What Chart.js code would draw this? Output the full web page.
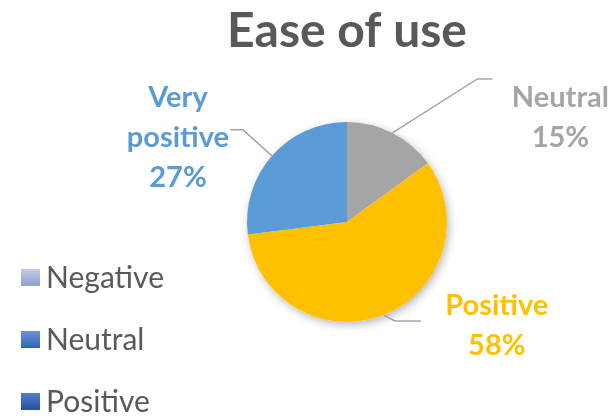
<!DOCTYPE html>
<html>
<head>
<meta charset="utf-8">
<script src="https://cdn.jsdelivr.net/npm/chart.js@4"></script>
<style>
  html, body { margin: 0; padding: 0; background: #fff; }
  #wrap { width: 615px; height: 417px; }
</style>
</head>
<body>
<div id="wrap"><canvas id="chart" width="615" height="417"></canvas></div>
<script>
const titleText = "Ease of use";
const categories = ["Negative", "Neutral", "Positive", "Very positive"];
const values = [0, 15, 58, 27];
const sliceColors = ["#4472C4", "#A5A5A5", "#FFC000", "#5B9BD5"];
const legendColors = [["#C5CEE8", "#8E9FD0"], ["#6E96DA", "#2F62B8"], ["#5582CC", "#24509E"], ["#5582CC", "#24509E"]];

// where each data label sits, relative to the edge middle of its slice
const labelLayout = [
  null,
  { elbow: [85, -54], end: [100, -54], text: [68, 28], lines: ["Neutral", "15%"] },
  { elbow: [11, 6], end: [37, 6], text: [76, -6], lines: ["Positive", "58%"] },
  { elbow: [-29, -26], end: [-42, -26], text: [-52, -23], lines: ["Very", "positive", "27%"] }
];

const FONT = "Lato, 'Open Sans', sans-serif";

const decor = {
  id: "decor",
  beforeDatasetsDraw(chart) {
    const ctx = chart.ctx;
    ctx.save();
    ctx.shadowColor = "rgba(0,0,0,0.28)";
    ctx.shadowBlur = 8;
    ctx.shadowOffsetX = 2;
    ctx.shadowOffsetY = 3;
    const meta = chart.getDatasetMeta(0);
    const a = meta.data[1];
    ctx.beginPath();
    ctx.arc(a.x, a.y, a.outerRadius, 0, Math.PI * 2);
    ctx.fillStyle = "#fff";
    ctx.fill();
    ctx.restore();
  },
  afterDatasetsDraw(chart) {
    const ctx = chart.ctx;
    const meta = chart.getDatasetMeta(0);
    const cx = meta.data[1].x;

    // title
    ctx.save();
    ctx.fillStyle = "#595959";
    ctx.font = "bold 48px " + FONT;
    ctx.textAlign = "center";
    ctx.textBaseline = "alphabetic";
    ctx.fillText(titleText, cx, 47);
    ctx.restore();

    // data labels with leader lines
    meta.data.forEach((arc, i) => {
      const lay = labelLayout[i];
      if (!lay || !values[i]) return;
      const mid = (arc.startAngle + arc.endAngle) / 2;
      const ex = arc.x + Math.cos(mid) * arc.outerRadius;
      const ey = arc.y + Math.sin(mid) * arc.outerRadius;
      ctx.save();
      ctx.strokeStyle = "#A6A6A6";
      ctx.lineWidth = 1.5;
      ctx.beginPath();
      ctx.moveTo(ex, ey);
      ctx.lineTo(ex + lay.elbow[0], ey + lay.elbow[1]);
      ctx.lineTo(ex + lay.end[0], ey + lay.end[1]);
      ctx.stroke();
      const tx = ex + lay.end[0] + lay.text[0];
      const ty = ey + lay.end[1] + lay.text[1];
      ctx.fillStyle = sliceColors[i];
      ctx.font = "bold 29px " + FONT;
      ctx.textAlign = "center";
      ctx.textBaseline = "alphabetic";
      lay.lines.forEach((t, k) => ctx.fillText(t, tx, ty + k * 40));
      ctx.restore();
    });

    // legend
    ctx.save();
    categories.forEach((c, i) => {
      const y = 277 + i * 62;
      const g = ctx.createLinearGradient(0, y - 9, 0, y + 9);
      g.addColorStop(0, legendColors[i][0]);
      g.addColorStop(1, legendColors[i][1]);
      ctx.fillStyle = g;
      ctx.fillRect(21, y - 8, 19, 17);
      ctx.fillStyle = "#595959";
      ctx.font = "30px " + FONT;
      ctx.textAlign = "left";
      ctx.textBaseline = "middle";
      ctx.fillText(c, 46, y + 1);
    });
    ctx.restore();
  }
};

new Chart(document.getElementById("chart"), {
  type: "pie",
  data: {
    labels: categories,
    datasets: [{
      data: values,
      backgroundColor: sliceColors,
      borderWidth: 0
    }]
  },
  options: {
    responsive: false,
    animation: false,
    layout: { padding: { left: 247, right: 168, top: 122, bottom: 95 } },
    plugins: {
      legend: { display: false },
      title: { display: false },
      tooltip: { enabled: false }
    }
  },
  plugins: [decor]
});
</script>
</body>
</html>
